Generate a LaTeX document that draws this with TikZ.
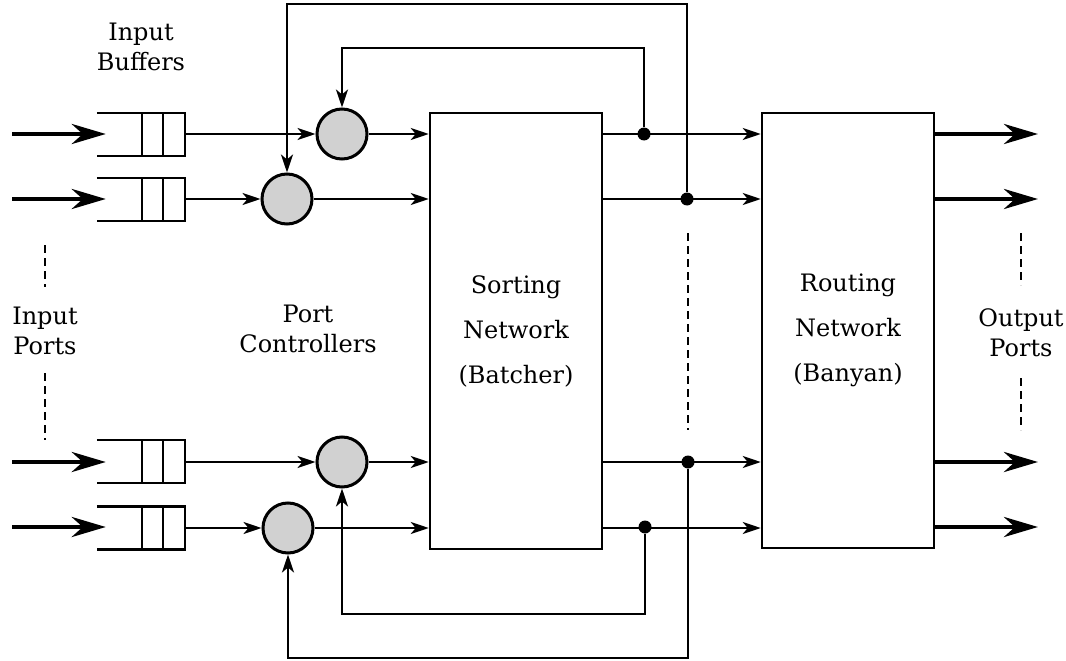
\documentclass[tikz,border=0pt]{standalone}
\usepackage{fontspec}
\setmainfont{DejaVu Serif}
\usetikzlibrary{arrows.meta,calc}

\begin{document}
\begin{tikzpicture}[x=1pt,y=-1pt,
  line/.style={line width=2.5pt},
  flow/.style={line, -{Stealth[length=18pt,width=12pt,inset=5pt]}},
  port/.style={line width=4.8pt, -{Stealth[length=34pt,width=20pt,inset=11pt]}},
  ctrl/.style={circle, draw, line width=3pt, fill=black!18, minimum size=50pt, inner sep=0pt},
  net/.style={draw, line width=2.5pt, minimum width=172pt, inner sep=0pt, align=center,
              font=\fontsize{24}{45}\selectfont},
  junction/.style={circle, fill, inner sep=0pt, minimum size=13pt},
  bufslot/.style={minimum width=88pt, minimum height=43pt, inner sep=0pt},
  lbl/.style={align=center, inner sep=0pt, anchor=north, font=\fontsize{24}{30}\selectfont},
  elide/.style={line width=2pt, dash pattern=on 8pt off 5pt}
]
\useasboundingbox (0,0) rectangle (1066,661);

% levels of the feedback loops
\coordinate (ot) at (0,4);
\coordinate (lt) at (0,48);
\coordinate (lb) at (0,614);
\coordinate (ob) at (0,658);

% input buffers
\node[bufslot] (b1) at (141,134.5) {};
\node[bufslot] (b2) at (141,199.5) {};
\node[bufslot] (b3) at (141,461.5) {};
\node[bufslot] (b4) at (141,528) {};
\foreach \b in {b1,b2,b3,b4}{
  \draw[line] (\b.north west) -- (\b.north east) -- (\b.south east) -- (\b.south west);
  \draw[line] ($(\b.north east)+(-22,0)$) -- ($(\b.south east)+(-22,0)$);
  \draw[line] ($(\b.north east)+(-43,0)$) -- ($(\b.south east)+(-43,0)$);
}

% port controllers
\node[ctrl] (c1) at (342,134) {};
\node[ctrl] (c2) at (287,199) {};
\node[ctrl] (c3) at (342,462) {};
\node[ctrl] (c4) at (288,528) {};

% switching fabric
\node[net, minimum height=436pt] (sort) at (516,331) {Sorting\\Network\\(Batcher)};
\node[net, minimum height=435pt] (route) at (848,330.5) {Routing\\Network\\(Banyan)};

% input ports
\coordinate (i1) at (12,134);
\coordinate (i2) at (12,199);
\coordinate (i3) at (12,462);
\coordinate (i4) at (12,527);
\foreach \i/\b in {i1/b1,i2/b2,i3/b3,i4/b4}
  \draw[port] (\i) -- ([xshift=9pt]\i -| \b.west);

% buffers to controllers to sorter
\foreach \b/\c in {b1/c1,b2/c2,b3/c3,b4/c4}{
  \draw[flow] (\b.east |- \c) -- (\c.west);
  \draw[flow] (\c.east) -- (\c -| sort.west);
}

% sorter to router
\foreach \c in {c1,c2,c3,c4}
  \draw[flow] (sort.east |- \c) -- (route.west |- \c);

% output ports
\coordinate (o1) at (1038,134);
\coordinate (o2) at (1038,199);
\coordinate (o3) at (1038,462);
\coordinate (o4) at (1038,527);
\foreach \o in {o1,o2,o3,o4}
  \draw[port] (route.east |- \o) -- (\o);

% taps on the sorter outputs
\node[junction] (d1) at (644,134) {};
\node[junction] (d2) at (687,199) {};
\node[junction] (d3) at (688,462) {};
\node[junction] (d4) at (645,527) {};

% feedback to the port controllers
\draw[flow] (d1) -- (d1 |- lt) -| (c1.north);
\draw[flow] (d2) -- (d2 |- ot) -| (c2.north);
\draw[flow] (d4) -- (d4 |- lb) -| (c3.south);
\draw[flow] (d3) -- (d3 |- ob) -| (c4.south);

% labels
\node[lbl] (ib) at (141,23) {Input\\Buffers};
\node[lbl] (ip) at (45,307) {Input\\Ports};
\node[lbl] (pc) at (308,305) {Port\\Controllers};
\node[lbl] (op) at (1021,308) {Output\\Ports};

% elided rows
\draw[elide] (45,245) -- (45,287);
\draw[elide] (45,373) -- (45,440);
\draw[elide] (688,233) -- (688,430);
\draw[elide] (1021,233) -- (1021,285);
\draw[elide] (1021,378) -- (1021,430);
\end{tikzpicture}
\end{document}
